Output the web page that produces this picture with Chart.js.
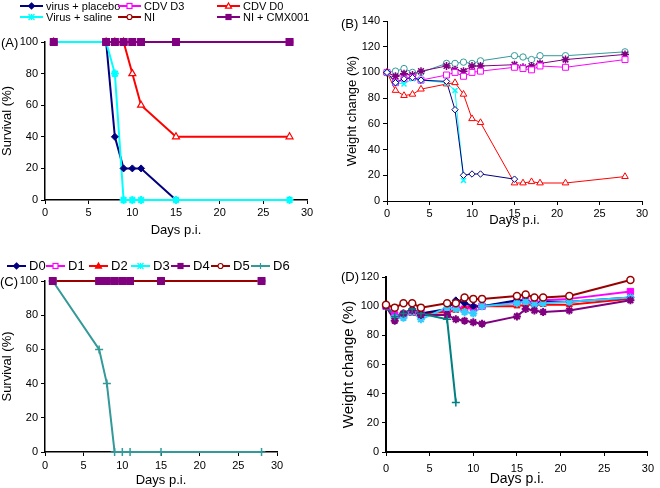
<!DOCTYPE html>
<html><head><meta charset="utf-8">
<script src="https://cdn.jsdelivr.net/npm/chart.js@4.4.0/dist/chart.umd.min.js"></script>
<style>
html,body{margin:0;padding:0;background:#fff;}
#wrap{position:relative;width:660px;height:488px;overflow:hidden;font-family:Arial,"Liberation Sans",sans-serif;color:#000;}
.panel{position:absolute;}
.panel canvas{display:block;}
.lbl{position:absolute;font-size:13px;line-height:13px;white-space:nowrap;}
.leg{position:absolute;white-space:nowrap;line-height:12px;}
.leg svg{position:absolute;}
.leg span{position:absolute;}
</style></head>
<body><div id="wrap">
<div class="panel" style="left:0;top:0"><canvas id="cA" width="330" height="240"></canvas></div>
<div class="panel" style="left:330px;top:0"><canvas id="cB" width="330" height="240"></canvas></div>
<div class="panel" style="left:0;top:240px"><canvas id="cC" width="330" height="248"></canvas></div>
<div class="panel" style="left:330px;top:240px"><canvas id="cD" width="330" height="248"></canvas></div>
<div class="lbl" style="left:1px;top:36px">(A)</div>
<div class="lbl" style="left:341px;top:17px">(B)</div>
<div class="lbl" style="left:0px;top:275px">(C)</div>
<div class="lbl" style="left:341px;top:270px">(D)</div>
<div id="legA"></div>
<div id="legC"></div>
</div>
<script>
// ---------- DATA ----------
// Panel A: survival
const survDays = [1, 7, 8, 9, 10, 11, 15, 28];
const survPlacebo = [100, 100, 40, 20, 20, 20, 0, 0];
const survSaline  = [100, 100, 80, 0, 0, 0, 0, 0];
const survCdvD3   = [100, 100, 100, 100, 100, 100, 100, 100];
const survCdvD0   = [100, 100, 100, 100, 80, 60, 40, 40];
const survNI      = [100, 100, 100, 100, 100, 100, 100, 100];
const survNICmx   = [100, 100, 100, 100, 100, 100, 100, 100];

// Panel B: weight change
const wDays = [0, 1, 2, 3, 4, 7, 8, 9, 10, 11, 15, 16, 17, 18, 21, 28];
const wPlacebo = [100, 92, 95, 96, 94, 93, 71, 20, 21, 21, 17];
const wSaline  = [100, 92, 91, 95, 94, 92, 86, 16];
const wCdvD3   = [100, 92, 95, 96, 94, 98, 100, 97, 100, 101, 104, 103, 102, 105, 104, 110];
const wCdvD0   = [100, 86, 82, 83, 87, 91, 92, 83, 64, 61, 14, 14, 15, 14, 14, 19];
const wNI      = [100, 101, 103, 100, 100, 107, 107, 108, 107, 109, 113, 112, 110, 113, 113, 116];
const wNICmx   = [100, 97, 99, 98, 101, 105, 102, 101, 105, 105, 106, 104, 105, 107, 110, 114];

// Panel C: survival by treatment start day
const survC_D0 = [100, 100, 100, 100, 100, 100, 100, 100];
const survC_D1 = [100, 100, 100, 100, 100, 100, 100, 100];
const survC_D2 = [100, 100, 100, 100, 100, 100, 100, 100];
const survC_D3 = [100, 100, 100, 100, 100, 100, 100, 100];
const survC_D4 = [100, 100, 100, 100, 100, 100, 100, 100];
const survC_D5 = [100, 100, 100, 100, 100, 100, 100, 100];
const survC_D6 = [100, 60, 40, 0, 0, 0, 0, 0];

// Panel D: weight change by treatment start day
const wD_D0 = [100, 92, 95, 98, 95, 98, 104, 102, 100, 100, 104, 104, 101, 103, 103, 106];
const wD_D1 = [100, 94, 94, 96, 95, 97, 100, 98, 99, 100, 103, 104, 102, 104, 105, 110];
const wD_D2 = [100, 91, 95, 95, 95, 96, 97, 99, 100, 100, 100, 101, 101, 101, 101, 105];
const wD_D3 = [100, 92, 92, 96, 91, 99, 98, 96, 95, 100, 102, 103, 101, 102, 103, 106];
const wD_D4 = [100, 90, 95, 97, 94, 94, 91, 90, 89, 88, 93, 98, 97, 96, 97, 104];
const wD_D5 = [101, 99, 102, 102, 99, 102, 102, 106, 105, 105, 107, 108, 106, 106, 107, 118];
const wD_D6 = [100, 93, 95, 98, 95, 91, 34];

// ---------- STYLE ----------
const NAVY = '#000080', MAG = '#FF00FF', RED = '#FF0000', CYAN = '#00FFFF',
      DRED = '#990000', PURP = '#800080', TEAL = '#339999', FONT = 'Arial, "Liberation Sans", sans-serif';

function pts(xs, ys) { return ys.map((v, i) => ({ x: xs[i], y: v })); }

function ser(label, xs, ys, color, style, fill, lw, r, pbw) {
  return { label, xs, ys, color, style, fill, lw, r, pbw };
}
// Excel-like layering: all lines first, then all markers on top.
function build(series, lineTop, pointTop) {
  const out = [];
  series.forEach(s => {
    const li = lineTop.indexOf(s.label), pi = pointTop.indexOf(s.label);
    out.push({ label: s.label, data: pts(s.xs, s.ys), borderColor: s.color, backgroundColor: s.color,
      borderWidth: s.lw, pointRadius: 0, pointHoverRadius: 0, tension: 0, clip: false, fill: false,
      order: 100 + li });
    out.push({ label: s.label + ' ', data: pts(s.xs, s.ys), showLine: false, borderColor: s.color,
      pointStyle: s.style, pointRadius: s.r, pointHoverRadius: s.r, pointBorderColor: s.color,
      pointBackgroundColor: s.fill, pointBorderWidth: s.pbw, clip: false, order: pi });
  });
  return out;
}

function opts(c) {
  return {
    responsive: false, animation: false, devicePixelRatio: 1,
    layout: { padding: c.pad },
    plugins: { legend: { display: false }, tooltip: { enabled: false } },
    scales: {
      x: { type: 'linear', min: 0, max: 30,
        afterFit: s => { s.height = c.xh; },
        ticks: { stepSize: 5, color: '#000', font: { family: FONT, size: c.tf }, padding: c.xtp, maxRotation: 0, autoSkip: false },
        grid: { drawOnChartArea: false, drawTicks: true, tickLength: 4, tickColor: '#000', tickWidth: 1 },
        border: { display: true, color: '#000', width: c.bw },
        title: { display: true, text: 'Days p.i.', color: '#000', font: { family: FONT, size: c.xf }, padding: { top: 0, bottom: c.xtb } } },
      y: { type: 'linear', min: 0, max: c.ymax,
        afterFit: s => { s.width = c.yw; },
        ticks: { stepSize: 20, color: '#000', font: { family: FONT, size: c.tf }, padding: 3, autoSkip: false },
        grid: { drawOnChartArea: false, drawTicks: true, tickLength: 4, tickColor: '#000', tickWidth: 1 },
        border: { display: true, color: '#000', width: c.bw },
        title: { display: true, text: c.ytitle, color: '#000', font: { family: FONT, size: c.yf }, padding: { top: 0, bottom: 0 } } }
    }
  };
}

// Panel A
const serA = [
  ser('virus + placebo', survDays, survPlacebo, NAVY, 'rectRot', NAVY, 2, 3.5, 1),
  ser('CDV D3', survDays, survCdvD3, MAG, 'rect', '#fff', 2, 4.5, 1.2),
  ser('CDV D0', survDays, survCdvD0, RED, 'triangle', '#fff', 2, 4, 1.2),
  ser('Virus + saline', survDays, survSaline, CYAN, 'star', CYAN, 2, 4, 2),
  ser('NI', survDays, survNI, DRED, 'circle', '#fff', 2, 3, 1.5),
  ser('NI + CMX001', survDays, survNICmx, PURP, 'rect', PURP, 2, 4.5, 1.5)
];
new Chart(document.getElementById('cA'), { type: 'line',
  data: { datasets: build(serA, ['Virus + saline', 'virus + placebo', 'NI + CMX001', 'NI', 'CDV D0', 'CDV D3'],
                                ['NI + CMX001', 'NI', 'CDV D3', 'CDV D0', 'Virus + saline', 'virus + placebo']) },
  options: opts({ pad: { left: 0, right: 23, top: 42, bottom: 0 }, yw: 45, xh: 40, ymax: 100, tf: 11, xf: 13, yf: 13, bw: 1.5, xtp: 2, xtb: 2, ytitle: 'Survival (%)' }) });

// Panel B
const serB = [
  ser('virus + placebo', wDays, wPlacebo, NAVY, 'rectRot', '#fff', 1, 3.2, 1),
  ser('Virus + saline', wDays, wSaline, CYAN, 'crossRot', CYAN, 1, 3.5, 1.5),
  ser('CDV D0', wDays, wCdvD0, RED, 'triangle', '#fff', 1, 3.8, 1),
  ser('CDV D3', wDays, wCdvD3, MAG, 'rect', '#fff', 1, 4.2, 1),
  ser('NI + CMX001', wDays, wNICmx, PURP, 'star', PURP, 1, 4, 1.5),
  ser('NI', wDays, wNI, TEAL, 'circle', '#fff', 1, 3.2, 1)
];
const orderB = ['virus + placebo', 'Virus + saline', 'CDV D0', 'CDV D3', 'NI + CMX001', 'NI'];
new Chart(document.getElementById('cB'), { type: 'line', data: { datasets: build(serB, orderB, orderB) },
  options: opts({ pad: { left: 15, right: 18, top: 21, bottom: 0 }, yw: 42, xh: 39, ymax: 140, tf: 11, xf: 13, yf: 13, bw: 1, xtp: 2, xtb: 12, ytitle: 'Weight change (%)' }) });

// Panel C
const serC = [
  ser('D0', survDays, survC_D0, NAVY, 'rectRot', NAVY, 2, 3.5, 1),
  ser('D1', survDays, survC_D1, MAG, 'rect', '#fff', 2, 4.5, 1),
  ser('D2', survDays, survC_D2, RED, 'triangle', RED, 2, 3.5, 1),
  ser('D3', survDays, survC_D3, CYAN, 'star', CYAN, 2, 4, 1.5),
  ser('D4', survDays, survC_D4, PURP, 'rect', PURP, 2, 4.5, 1.5),
  ser('D5', survDays, survC_D5, DRED, 'circle', '#fff', 2, 3, 1.5),
  ser('D6', survDays, survC_D6, TEAL, 'cross', TEAL, 2, 4, 1.5)
];
new Chart(document.getElementById('cC'), { type: 'line',
  data: { datasets: build(serC, ['D6', 'D5', 'D4', 'D3', 'D2', 'D1', 'D0'], ['D4', 'D6', 'D5', 'D3', 'D2', 'D1', 'D0']) },
  options: opts({ pad: { left: 0, right: 53, top: 41, bottom: 0 }, yw: 45, xh: 36, ymax: 100, tf: 11, xf: 13, yf: 13, bw: 1.5, xtp: 3, xtb: 0, ytitle: 'Survival (%)' }) });

// Panel D
const serD = [
  ser('D0', wDays, wD_D0, NAVY, 'rectRot', NAVY, 2, 3.5, 1),
  ser('D1', wDays, wD_D1, MAG, 'rect', MAG, 2, 4.5, 1),
  ser('D2', wDays, wD_D2, RED, 'triangle', RED, 2, 3.5, 1),
  ser('D3', wDays, wD_D3, '#33CCFF', 'star', '#33CCFF', 2, 4, 2),
  ser('D4', wDays, wD_D4, PURP, 'star', PURP, 2, 4, 2),
  ser('D5', wDays, wD_D5, DRED, 'circle', '#fff', 2, 3.5, 1.5),
  ser('D6', wDays, wD_D6, '#008080', 'cross', '#008080', 2, 4, 1.5)
];
const orderD = ['D5', 'D6', 'D4', 'D3', 'D0', 'D2', 'D1'];
new Chart(document.getElementById('cD'), { type: 'line', data: { datasets: build(serD, orderD, orderD) },
  options: opts({ pad: { left: 10, right: 7, top: 37, bottom: 0 }, yw: 46, xh: 36, ymax: 120, tf: 11, xf: 14, yf: 15, bw: 2, xtp: 6, xtb: 0, ytitle: 'Weight change (%)' }) });

// ---------- HTML legends built from the series ----------
function marker(style, color, fill, cx, cy, r) {
  const s = `stroke="${color}" stroke-width="1.2"`;
  switch (style) {
    case 'rectRot': return `<polygon points="${cx},${cy-r} ${cx+r},${cy} ${cx},${cy+r} ${cx-r},${cy}" fill="${fill}" ${s}/>`;
    case 'rect': return `<rect x="${cx-r+0.5}" y="${cy-r+0.5}" width="${2*r-1}" height="${2*r-1}" fill="${fill}" ${s}/>`;
    case 'triangle': return `<polygon points="${cx},${cy-r} ${cx+r},${cy+r*0.7} ${cx-r},${cy+r*0.7}" fill="${fill}" ${s}/>`;
    case 'circle': return `<circle cx="${cx}" cy="${cy}" r="${r-0.5}" fill="${fill}" ${s}/>`;
    case 'cross': return `<path d="M${cx-r} ${cy}H${cx+r}M${cx} ${cy-r}V${cy+r}" ${s}/>`;
    case 'crossRot': return `<path d="M${cx-r} ${cy-r}L${cx+r} ${cy+r}M${cx+r} ${cy-r}L${cx-r} ${cy+r}" ${s}/>`;
    case 'star': return `<path d="M${cx-r} ${cy-r}L${cx+r} ${cy+r}M${cx+r} ${cy-r}L${cx-r} ${cy+r}M${cx} ${cy-r}V${cy+r}" ${s} stroke-width="1.6"/>`;
  }
  return '';
}
function legend(el, items, fontSize, symW) {
  let html = '';
  items.forEach(it => {
    const d = it.s, h = 12, cy = 6;
    html += `<div class="leg" style="left:${it.x}px;top:${it.y}px;font-size:${fontSize}px">` +
      `<svg width="${symW}" height="${h}" style="left:0;top:0"><line x1="0" y1="${cy}" x2="${symW}" y2="${cy}" stroke="${d.color}" stroke-width="2"/>` +
      marker(d.style, d.color, d.fill, symW / 2, cy, 3) + `</svg>` +
      `<span style="left:${symW + 3}px;top:0">${d.label}</span></div>`;
  });
  document.getElementById(el).innerHTML = html;
}
const byLabel = (arr, l) => arr.find(d => d.label === l);
legend('legA', [
  { s: byLabel(serA, 'virus + placebo'), x: 20, y: 0 },
  { s: byLabel(serA, 'CDV D3'), x: 118, y: 0 },
  { s: byLabel(serA, 'CDV D0'), x: 217, y: 0 },
  { s: byLabel(serA, 'Virus + saline'), x: 20, y: 11 },
  { s: byLabel(serA, 'NI'), x: 118, y: 11 },
  { s: byLabel(serA, 'NI + CMX001'), x: 217, y: 11 }
], 11, 23);
const legCx = [7, 46, 89, 131, 171, 211, 251];
legend('legC', ['D0', 'D1', 'D2', 'D3', 'D4', 'D5', 'D6'].map((l, i) => ({ s: byLabel(serC, l), x: legCx[i], y: 260 })), 13, 19);
</script>
</body></html>
